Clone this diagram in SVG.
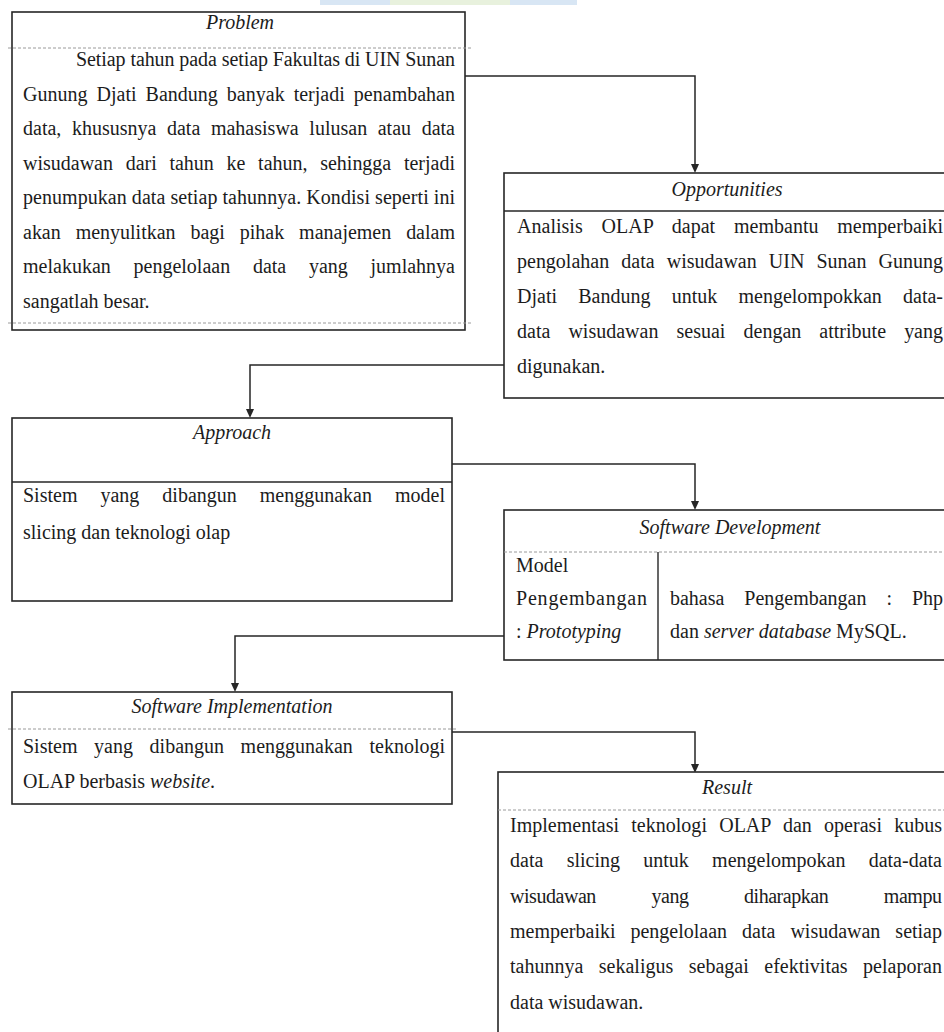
<svg xmlns="http://www.w3.org/2000/svg" width="944" height="1032" viewBox="0 0 944 1032" font-family="'Liberation Serif', 'DejaVu Serif', serif">
<style>
.box{fill:#fff;stroke:#262626;stroke-width:1.6}
.sep{stroke:#262626;stroke-width:1.4;fill:none}
.dash{stroke:#9a9a9a;stroke-width:1;stroke-dasharray:3 2;fill:none}
.con{stroke:#262626;stroke-width:1.5;fill:none}
text{font-family:'Liberation Serif','DejaVu Serif',serif;font-size:20px;fill:#1c1c1c}
.t{font-style:italic;text-anchor:middle}
.i{font-style:italic}
</style>
<rect width="944" height="1032" fill="#fff"/>
<g id="watermark" opacity="0.55">
<rect x="320" y="0" width="257" height="5" fill="#b9d3ec"/>
<rect x="390" y="0" width="120" height="5" fill="#d6e6c3"/>
</g>

<g id="connectors">
<path class="con" d="M465,76 H695 V164"/>
<path d="M691,164 L699,164 L695,173 Z" fill="#262626"/>
<path class="con" d="M504,365 H250 V409"/>
<path d="M246,409 L254,409 L250,418 Z" fill="#262626"/>
<path class="con" d="M452,464 H695 V501"/>
<path d="M691,501 L699,501 L695,510 Z" fill="#262626"/>
<path class="con" d="M504,636 H235 V683"/>
<path d="M231,683 L239,683 L235,692 Z" fill="#262626"/>
<path class="con" d="M452,732 H695 V764"/>
<path d="M691,764 L699,764 L695,773 Z" fill="#262626"/>
</g>

<g id="problem">
<rect class="box" x="12" y="12" width="453" height="318"/>
<line class="dash" x1="8" y1="48" x2="471" y2="48"/>
<line class="dash" x1="8" y1="323" x2="471" y2="323"/>
<text class="t" x="240" y="29">Problem</text>
<text x="76" y="66" textLength="379" lengthAdjust="spacing">Setiap tahun pada setiap Fakultas di UIN Sunan</text>
<text x="23" y="100.5" word-spacing="4" textLength="432" lengthAdjust="spacing">Gunung Djati Bandung banyak terjadi penambahan</text>
<text x="23" y="135" word-spacing="5.6" textLength="432" lengthAdjust="spacing">data, khususnya data mahasiswa lulusan atau data</text>
<text x="23" y="169.5" word-spacing="7.7" textLength="432" lengthAdjust="spacing">wisudawan dari tahun ke tahun, sehingga terjadi</text>
<text x="23" y="204" textLength="432" lengthAdjust="spacing">penumpukan data setiap tahunnya. Kondisi seperti ini</text>
<text x="23" y="238.5" word-spacing="9.9" textLength="432" lengthAdjust="spacing">akan menyulitkan bagi pihak manajemen dalam</text>
<text x="23" y="273" word-spacing="17.7" textLength="432" lengthAdjust="spacing">melakukan pengelolaan data yang jumlahnya</text>
<text x="23" y="307.5">sangatlah besar.</text>
</g>

<g id="opportunities">
<rect class="box" x="504" y="173" width="460" height="225"/>
<line class="sep" x1="504" y1="211" x2="944" y2="211"/>
<text class="t" x="727" y="196">Opportunities</text>
<text x="517" y="233" word-spacing="13.7" textLength="426" lengthAdjust="spacing">Analisis OLAP dapat membantu memperbaiki</text>
<text x="517" y="268" word-spacing="7.1" textLength="426" lengthAdjust="spacing">pengolahan data wisudawan UIN Sunan Gunung</text>
<text x="517" y="303" word-spacing="16.2" textLength="426" lengthAdjust="spacing">Djati Bandung untuk mengelompokkan data-</text>
<text x="517" y="338" word-spacing="13.1" textLength="426" lengthAdjust="spacing">data wisudawan sesuai dengan attribute yang</text>
<text x="517" y="373">digunakan.</text>
</g>

<g id="approach">
<rect class="box" x="12" y="418" width="440" height="183"/>
<line class="sep" x1="12" y1="482" x2="452" y2="482"/>
<text class="t" x="232" y="439">Approach</text>
<text x="23" y="502" word-spacing="18" textLength="422" lengthAdjust="spacing">Sistem yang dibangun menggunakan model</text>
<text x="23" y="539">slicing dan teknologi olap</text>
</g>

<g id="software-development">
<rect class="box" x="504" y="510" width="460" height="150"/>
<line class="dash" x1="504" y1="552" x2="944" y2="552"/>
<line class="sep" x1="658" y1="552" x2="658" y2="660"/>
<text class="t" x="730" y="534">Software Development</text>
<text x="516" y="572">Model</text>
<text x="516" y="605" textLength="131" lengthAdjust="spacing">Pengembangan</text>
<text x="516" y="638">: <tspan class="i">Prototyping</tspan></text>
<text x="670" y="605" word-spacing="15" textLength="273" lengthAdjust="spacing">bahasa Pengembangan : Php</text>
<text x="670" y="638">dan <tspan class="i">server database</tspan> MySQL.</text>
</g>

<g id="software-implementation">
<rect class="box" x="12" y="692" width="440" height="112"/>
<line class="dash" x1="8" y1="729" x2="456" y2="729"/>
<text class="t" x="232" y="713">Software Implementation</text>
<text x="23" y="753" word-spacing="11.6" textLength="422" lengthAdjust="spacing">Sistem yang dibangun menggunakan teknologi</text>
<text x="23" y="788">OLAP berbasis <tspan class="i">website</tspan>.</text>
</g>

<g id="result">
<rect class="box" x="498" y="772" width="460" height="270"/>
<line class="dash" x1="498" y1="810" x2="944" y2="810"/>
<text class="t" x="727" y="794">Result</text>
<text x="510" y="832" word-spacing="7.2" textLength="432" lengthAdjust="spacing">Implementasi teknologi OLAP dan operasi kubus</text>
<text x="510" y="867" word-spacing="18.3" textLength="432" lengthAdjust="spacing">data slicing untuk mengelompokan data-data</text>
<text x="510" y="902.5" word-spacing="51" textLength="432" lengthAdjust="spacing">wisudawan yang diharapkan mampu</text>
<text x="510" y="938" word-spacing="10" textLength="432" lengthAdjust="spacing">memperbaiki pengelolaan data wisudawan setiap</text>
<text x="510" y="973" word-spacing="10.5" textLength="432" lengthAdjust="spacing">tahunnya sekaligus sebagai efektivitas pelaporan</text>
<text x="510" y="1008.5">data wisudawan.</text>
</g>
</svg>
